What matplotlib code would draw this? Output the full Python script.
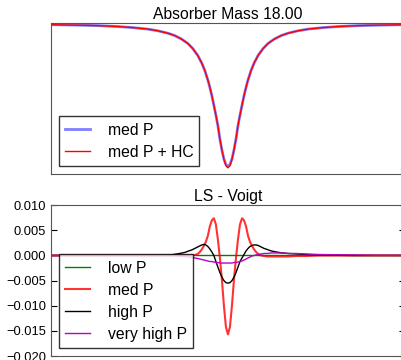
import numpy as np
import matplotlib.pyplot as plt

plt.rcParams['font.family'] = ['Liberation Sans', 'DejaVu Sans']

# frequency offset from line centre (arbitrary units)
nu_abs = [-1.76, -1.50, -1.30, -1.10, -0.95, -0.80, -0.70, -0.60, -0.53, -0.46,
          -0.40, -0.35, -0.30, -0.26, -0.23, -0.20, -0.18, -0.16, -0.14, -0.12,
          -0.10, -0.08, -0.06, -0.04, -0.02, 0.00,
          0.02, 0.04, 0.06, 0.08, 0.10, 0.12, 0.14, 0.16, 0.18, 0.20,
          0.23, 0.26, 0.30, 0.35, 0.40, 0.46, 0.53, 0.60, 0.70, 0.80,
          0.95, 1.10, 1.30, 1.50, 1.76]

# transmission, medium pressure
trans_med = [0.989, 0.986, 0.983, 0.977, 0.970, 0.960, 0.949, 0.933, 0.917, 0.893,
             0.865, 0.831, 0.785, 0.734, 0.685, 0.623, 0.574, 0.518, 0.455, 0.390,
             0.320, 0.231, 0.158, 0.099, 0.062, 0.050,
             0.062, 0.099, 0.158, 0.231, 0.320, 0.390, 0.455, 0.518, 0.574, 0.623,
             0.685, 0.734, 0.785, 0.831, 0.865, 0.893, 0.917, 0.933, 0.949, 0.960,
             0.970, 0.977, 0.983, 0.986, 0.989]

# transmission, medium pressure with hot-core contribution
trans_med_hc = [0.989, 0.986, 0.983, 0.977, 0.970, 0.960, 0.949, 0.933, 0.917, 0.893,
                0.865, 0.831, 0.785, 0.734, 0.685, 0.623, 0.574, 0.518, 0.455, 0.390,
                0.320, 0.231, 0.158, 0.096, 0.054, 0.040,
                0.054, 0.096, 0.158, 0.231, 0.320, 0.390, 0.455, 0.518, 0.574, 0.623,
                0.685, 0.734, 0.785, 0.831, 0.865, 0.893, 0.917, 0.933, 0.949, 0.960,
                0.970, 0.977, 0.983, 0.986, 0.989]

nu_ls = [-1.76, -1.50, -1.25, -1.05, -0.90, -0.78, -0.68, -0.60, -0.54, -0.48,
         -0.43, -0.39, -0.36, -0.33,
         -0.30, -0.28, -0.26, -0.24, -0.22, -0.20, -0.18, -0.16, -0.14, -0.12,
         -0.10, -0.08, -0.06, -0.04, -0.02, 0.00, 0.02, 0.04, 0.06, 0.08,
         0.10, 0.12, 0.14, 0.16, 0.18, 0.20, 0.22, 0.24, 0.26, 0.28, 0.30,
         0.33, 0.36, 0.39, 0.43, 0.48, 0.54, 0.60, 0.68, 0.78, 0.90,
         1.05, 1.25, 1.50, 1.76]

# line-shape residuals (LS - Voigt)
ls_low = [0.0] * len(nu_ls)

ls_med = [0.0, 0.0, 0.0, 0.0, 0.0, 0.0, 0.0, 0.0, 0.0, 0.0,
          0.0, 0.0, 0.0, 0.0001,
          0.0003, 0.0007, 0.0012, 0.0019, 0.0027, 0.0039, 0.0058, 0.0070, 0.0074, 0.0062,
          0.0032, -0.0005, -0.0048, -0.0100, -0.0142, -0.0157, -0.0142, -0.0100, -0.0048, -0.0005,
          0.0032, 0.0062, 0.0074, 0.0070, 0.0058, 0.0039, 0.0027, 0.0019, 0.0012, 0.0007, 0.0003,
          0.0000, -0.0001, -0.0002, -0.0002, -0.0002, -0.0002, -0.0002, -0.0001, -0.0001, 0.0,
          0.0, 0.0, 0.0, 0.0]

ls_high = [0.0, 0.0, 0.0, 0.0, 0.0, 0.0, 0.0, 0.00005, 0.0002, 0.0004,
           0.0006, 0.0009, 0.0011, 0.0014,
           0.0017, 0.0019, 0.0021, 0.0022, 0.0021, 0.0018, 0.0013, 0.0007, 0.0000, -0.0012,
           -0.0023, -0.0034, -0.0043, -0.0050, -0.0054, -0.0055, -0.0054, -0.0050, -0.0043, -0.0034,
           -0.0023, -0.0012, -0.0005, 0.0002, 0.0009, 0.0014, 0.0018, 0.0020, 0.0021, 0.0021, 0.0020,
           0.0017, 0.0014, 0.0012, 0.0009, 0.0007, 0.0005, 0.0004, 0.0003, 0.0002, 0.0001,
           0.00005, 0.0, 0.0, 0.0]

ls_vhigh = [0.0, 0.0, 0.0, 0.0, 0.0, 0.0, 0.0, 0.0, -0.00005, -0.0001,
            -0.0002, -0.0003, -0.0004, -0.0005,
            -0.0006, -0.0007, -0.0008, -0.0009, -0.0010, -0.0011, -0.0012, -0.0012, -0.0013, -0.0014,
            -0.0014, -0.0015, -0.0015, -0.0015, -0.0015, -0.0015, -0.0015, -0.0015, -0.0014, -0.0014,
            -0.0013, -0.0012, -0.0011, -0.0009, -0.0007, -0.0005, -0.0003, -0.0001, 0.0000, 0.0001, 0.0002,
            0.0003, 0.0004, 0.0004, 0.0005, 0.0005, 0.0005, 0.0004, 0.0004, 0.0003, 0.0002,
            0.00015, 0.0001, 0.00003, 0.00002]

fig = plt.figure(figsize=(4.02, 3.6), dpi=100)
ax1 = fig.add_axes([0.127, 0.517, 0.880, 0.419])
ax2 = fig.add_axes([0.127, 0.011, 0.880, 0.419])

leg_kw = dict(loc='lower left', fontsize=11.3, fancybox=False, edgecolor='k',
              handlelength=1.6, handletextpad=1.1, borderpad=0.4, labelspacing=0.45,
              borderaxespad=0.5)

# absorption profile
ax1.plot(nu_abs, trans_med, color='b', lw=2, alpha=0.5, label='med P')
ax1.plot(nu_abs, trans_med_hc, color='r', lw=1, label='med P + HC')
ax1.set_xlim(-1.76, 1.76)
ax1.set_ylim(0, 1)
ax1.set_xticks([])
ax1.set_yticks([])
ax1.set_title('Absorber Mass 18.00', fontsize=11.3, pad=3)
ax1.legend(**leg_kw)

# residuals
ax2.plot(nu_ls, ls_low, color='g', lw=1, label='low P')
ax2.plot(nu_ls, ls_med, color='r', lw=1.5, alpha=0.8, label='med P')
ax2.plot(nu_ls, ls_high, color='k', lw=1, label='high P')
ax2.plot(nu_ls, ls_vhigh, color='m', lw=1, label='very high P')
ax2.set_xlim(-1.76, 1.76)
ax2.set_ylim(-0.020, 0.010)
ax2.set_xticks([])
ax2.set_yticks(np.arange(-0.020, 0.0101, 0.005))
ax2.yaxis.set_major_formatter(
    plt.FuncFormatter(lambda v, pos: ('%.3f' % v).replace('-', '\u2212') if abs(v) > 1e-9 else '0.000'))
ax2.tick_params(axis='y', direction='in', left=True, right=True, length=4, labelsize=9.3)
ax2.set_title('LS - Voigt', fontsize=11.3, pad=3)
ax2.legend(**leg_kw)

for ax in (ax1, ax2):
    for sp in ax.spines.values():
        sp.set_color('#555555')

fig.savefig('out.png', dpi=100)
